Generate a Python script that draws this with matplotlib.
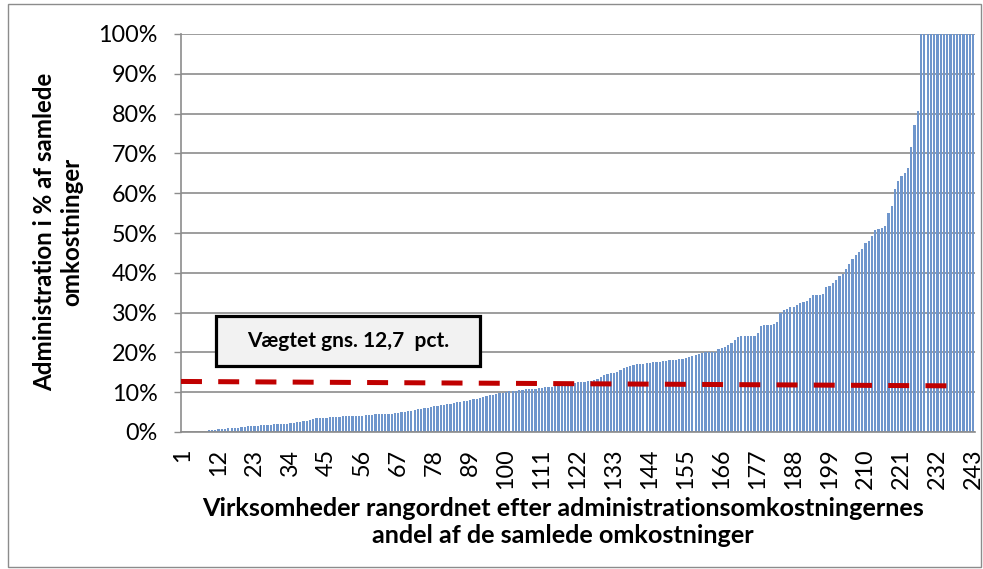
import matplotlib
matplotlib.use("Agg")
import matplotlib.pyplot as plt
from matplotlib.patches import Rectangle

plt.rcParams['font.family'] = ['Lato', 'DejaVu Sans']
plt.rcParams['lines.scale_dashes'] = False

# ---- data (admin share of total costs, %, sorted ascending) ----
shares = [
    0, 0, 0, 0, 0, 0, 0, 0, 0.4, 0.5,
    0.6, 0.7, 0.8, 0.8, 0.9, 1.0, 1.1, 1.1, 1.2, 1.3,
    1.4, 1.5, 1.5, 1.6, 1.7, 1.7, 1.8, 1.8, 1.9, 1.9,
    2.0, 2.0, 2.1, 2.2, 2.3, 2.5, 2.6, 2.7, 2.8, 3.0,
    3.2, 3.4, 3.5, 3.6, 3.6, 3.7, 3.7, 3.8, 3.8, 3.9,
    3.9, 4.0, 4.0, 4.0, 4.1, 4.1, 4.2, 4.2, 4.3, 4.4,
    4.4, 4.5, 4.5, 4.6, 4.6, 4.7, 4.8, 4.9, 5.0, 5.2,
    5.3, 5.5, 5.7, 5.9, 6.0, 6.1, 6.3, 6.5, 6.6, 6.7,
    6.9, 7.0, 7.1, 7.3, 7.5, 7.6, 7.8, 7.9, 8.0, 8.2,
    8.4, 8.6, 8.8, 9.0, 9.2, 9.4, 9.6, 9.8, 9.9, 10.1,
    10.2, 10.3, 10.4, 10.5, 10.6, 10.7, 10.8, 10.9, 10.9, 11.0,
    11.1, 11.2, 11.3, 11.4, 11.6, 11.8, 12.0, 12.1, 12.2, 12.3,
    12.4, 12.5, 12.5, 12.6, 12.7, 12.9, 13.1, 13.3, 13.8, 14.2,
    14.5, 14.7, 14.9, 15.2, 15.6, 16.0, 16.4, 16.7, 16.9, 17.0,
    17.1, 17.2, 17.3, 17.4, 17.5, 17.6, 17.7, 17.8, 17.9, 18.0,
    18.1, 18.2, 18.3, 18.4, 18.6, 18.8, 19.1, 19.4, 19.7, 19.9,
    20.0, 20.1, 20.1, 20.2, 20.8, 21.1, 21.4, 21.9, 22.4, 23.0,
    23.8, 24.0, 24.0, 24.0, 24.1, 24.2, 25.0, 26.6, 26.8, 26.9,
    27.0, 27.1, 27.7, 29.8, 30.6, 31.0, 31.3, 31.4, 32.0, 32.4,
    32.6, 33.0, 33.7, 34.3, 34.5, 34.5, 34.7, 36.5, 36.6, 37.4,
    38.2, 39.1, 39.6, 40.9, 42.3, 43.5, 44.5, 45.3, 46.0, 47.6,
    48.0, 49.3, 50.7, 51.0, 51.2, 51.8, 55.0, 56.8, 61.0, 63.0,
    64.3, 65.0, 66.4, 71.6, 77.2, 80.7, 100, 100, 100, 100,
    100, 100, 100, 100, 100, 100, 100, 100, 100, 100,
    100, 100, 100,
]
ranks = list(range(1, len(shares) + 1))
xtick_labels = ["1", "12", "23", "34", "45", "56", "67", "78", "89", "100", "111",
                "122", "133", "144", "155", "166", "177", "188", "199", "210",
                "221", "232", "243"]
ytick_values = [0, 10, 20, 30, 40, 50, 60, 70, 80, 90, 100]
avg_line_x = [0.5, 235]
avg_line_y = [12.7, 11.6]
avg_label = "Vægtet gns. 12,7  pct."

W, H = 983, 569
fig = plt.figure(figsize=(W / 100, H / 100), dpi=100)
ax = fig.add_axes([181 / W, 1 - 432 / H, (975 - 181) / W, (432 - 34) / H])

ax.bar(ranks, shares, width=0.68, color='#6F96CC', edgecolor='none', zorder=2)
ax.plot(avg_line_x, avg_line_y, color='#C00000', lw=3.6,
        dashes=(15.1, 11.7), solid_capstyle='butt', dash_capstyle='butt', zorder=4)

ax.set_xlim(0.5, len(shares) + 0.5)
ax.set_ylim(0, 100)
ax.set_axisbelow(True)
ax.yaxis.grid(True, color='#8C8C8C', lw=1.2)
ax.set_yticks(ytick_values)
ax.set_yticklabels([f"{v}%" for v in ytick_values], fontsize=16.8)
ax.tick_params(axis='y', length=5, width=1, color='#8C8C8C', pad=12)
ax.set_xticks([int(t) for t in xtick_labels])
ax.set_xticklabels(xtick_labels, rotation=90, fontsize=16.8)
ax.tick_params(axis='x', length=0, pad=12)
for s in ['top', 'right']:
    ax.spines[s].set_visible(False)
for s in ['left', 'bottom']:
    ax.spines[s].set_color('#8C8C8C')
    ax.spines[s].set_linewidth(1.2)

# annotation box
fig.text((216 + 480) / 2 / W, 1 - 341 / H, avg_label, fontsize=15, fontweight='bold',
         ha='center', va='center', zorder=5)
fig.patches.append(Rectangle((216 / W, 1 - 366 / H), (480 - 216) / W, (366 - 316) / H,
                             transform=fig.transFigure, facecolor='#F2F2F2',
                             edgecolor='black', lw=2.3, zorder=3))

fig.text(563 / W, 1 - 522 / H,
         "Virksomheder rangordnet efter administrationsomkostningernes\nandel af de samlede omkostninger",
         fontsize=18.2, fontweight='bold', ha='center', va='center', linespacing=1.2)
fig.text(58 / W, 1 - 232 / H, "Administration i % af samlede\nomkostninger",
         fontsize=17.4, fontweight='bold', ha='center', va='center', rotation=90,
         linespacing=1.2)

# outer chart border
fig.patches.append(Rectangle((8 / W, 1 - 567 / H), (981 - 8) / W, (567 - 4) / H,
                             transform=fig.transFigure, facecolor='none',
                             edgecolor='#8C8C8C', lw=1))

fig.savefig("out.png", dpi=100)
